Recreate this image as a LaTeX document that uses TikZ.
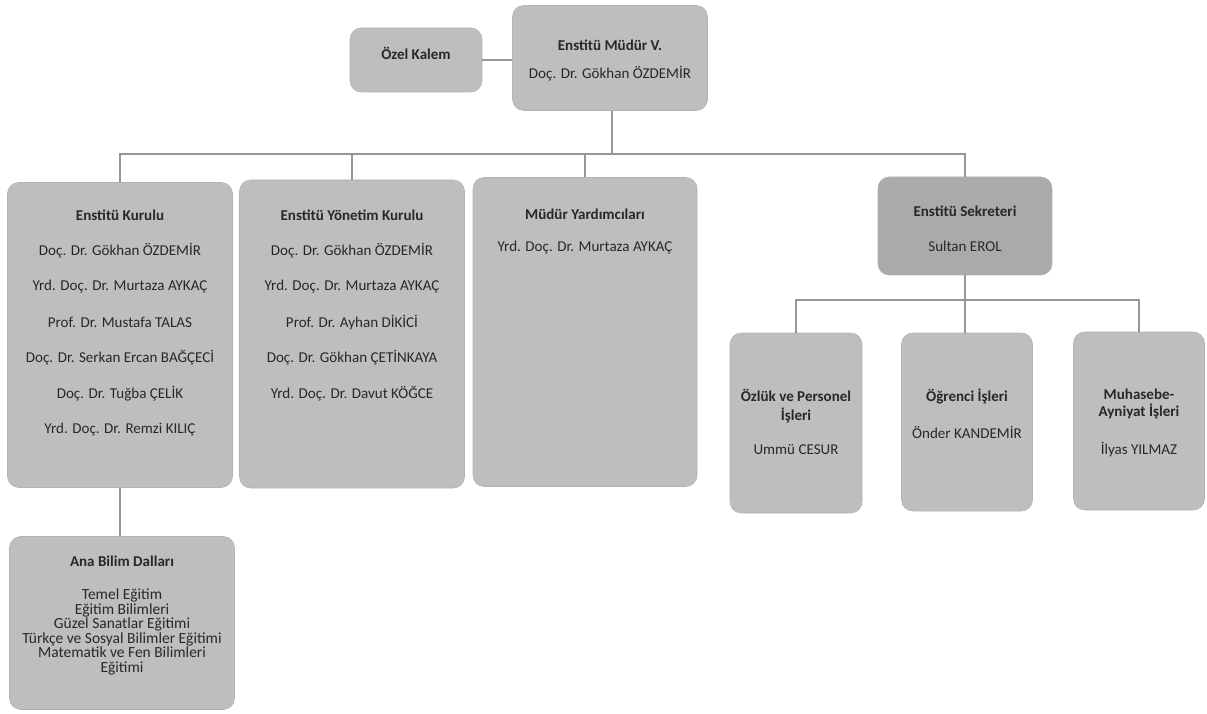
\documentclass[tikz,border=0pt]{standalone}
\usepackage{fontspec}
\setmainfont{Carlito}
\usetikzlibrary{positioning}

\newcommand\px{0.025cm}
\definecolor{boxgray}{RGB}{190,190,190}
\definecolor{darkbox}{RGB}{170,170,170}
\definecolor{linegray}{RGB}{150,150,150}
\definecolor{txtgray}{RGB}{40,40,40}

\begin{document}
\begin{tikzpicture}[x=\px, y=-\px,
    unit/.style={draw=gray!60, fill=boxgray, rounded corners=0.28cm, inner sep=0pt},
    title/.style={font=\bfseries\fontsize{10.7}{12}\selectfont, text=txtgray, align=center},
    member/.style={font=\fontsize{10.7}{12}\selectfont, text=txtgray, align=center},
    link/.style={draw=linegray, line width=1.1pt}]
\useasboundingbox (0,0) rectangle (1207,714);

% top level
\node[unit, minimum width=132*\px, minimum height=64*\px] (ozel) at (416,60) {};
\node[unit, minimum width=195*\px, minimum height=105*\px] (mudur) at (610,58) {};
\node[title] (ozel-t) at (416,53) {Özel Kalem};
\node[title] (mudur-t) at (610,45) {Enstitü Müdür V.};
\node[member] (mudur-n) at (610,74) {Doç. Dr. Gökhan ÖZDEMİR};

% second level
\node[unit, minimum width=225*\px, minimum height=305*\px] (kurulu) at (120,335) {};
\node[unit, minimum width=225*\px, minimum height=308*\px] (yonetim) at (352,334) {};
\node[unit, minimum width=224*\px, minimum height=309*\px] (yardim) at (585,332) {};
\node[unit, fill=darkbox, minimum width=174*\px, minimum height=98*\px] (sekreter) at (965,226) {};

\node[title] (kurulu-t) at (120,215) {Enstitü Kurulu};
\foreach \t [count=\i] in {Doç. Dr. Gökhan ÖZDEMİR, Yrd. Doç. Dr. Murtaza AYKAÇ,
    Prof. Dr. Mustafa TALAS, Doç. Dr. Serkan Ercan BAĞÇECİ,
    Doç. Dr. Tuğba ÇELİK, Yrd. Doç. Dr. Remzi KILIÇ}
    \node[member] (kurulu-\i) at (120,{215+35.7*\i}) {\t};

\node[title] (yonetim-t) at (352,215) {Enstitü Yönetim Kurulu};
\foreach \t [count=\i] in {Doç. Dr. Gökhan ÖZDEMİR, Yrd. Doç. Dr. Murtaza AYKAÇ,
    Prof. Dr. Ayhan DİKİCİ, Doç. Dr. Gökhan ÇETİNKAYA, Yrd. Doç. Dr. Davut KÖĞCE}
    \node[member] (yonetim-\i) at (352,{215+35.7*\i}) {\t};

\node[title] (yardim-t) at (585,214) {Müdür Yardımcıları};
\node[member] (yardim-1) at (585,248) {Yrd. Doç. Dr. Murtaza AYKAÇ};

\node[title] (sekreter-t) at (965,211) {Enstitü Sekreteri};
\node[member] (sekreter-n) at (965,246) {Sultan EROL};

% under the secretary
\node[unit, minimum width=132*\px, minimum height=180*\px] (ozluk) at (796,423) {};
\node[unit, minimum width=131*\px, minimum height=178*\px] (ogrenci) at (967,422) {};
\node[unit, minimum width=131*\px, minimum height=178*\px] (muhasebe) at (1139,421) {};
\node[title, font=\bfseries\fontsize{10.7}{13.5}\selectfont] (ozluk-t) at (796,406) {Özlük ve Personel\\İşleri};
\node[member] (ozluk-n) at (796,450) {Ummü CESUR};
\node[title] (ogrenci-t) at (967,396) {Öğrenci İşleri};
\node[member] (ogrenci-n) at (967,432) {Önder KANDEMİR};
\node[title, font=\bfseries\fontsize{10.7}{12.6}\selectfont] (muhasebe-t) at (1139,404) {Muhasebe-\\Ayniyat İşleri};
\node[member] (muhasebe-n) at (1139,450) {İlyas YILMAZ};

% under the council
\node[unit, minimum width=225*\px, minimum height=173*\px] (anabilim) at (122,623) {};
\node[title] (anabilim-t) at (122,561) {Ana Bilim Dalları};
\node[member, font=\fontsize{11}{10.3}\selectfont] (anabilim-l) at (122,632)
    {Temel Eğitim\\Eğitim Bilimleri\\Güzel Sanatlar Eğitimi\\Türkçe  ve Sosyal Bilimler Eğitimi\\Matematik ve Fen Bilimleri\\Eğitimi};

% connectors
\coordinate (bus) at (612,154);
\coordinate (bus2) at (965,300);
\draw[link] (ozel.east) -- (ozel.east -| mudur.west);
\draw[link] (mudur.south -| bus) -- (bus);
\draw[link] (kurulu.north) |- (bus);
\draw[link] (sekreter.north) |- (bus);
\draw[link] (yonetim.north) -- (yonetim.north |- bus);
\draw[link] (yardim.north) -- (yardim.north |- bus);
\draw[link] (sekreter.south) -- (bus2);
\draw[link] (ozluk.north) |- (bus2);
\draw[link] (muhasebe.north) |- (bus2);
\draw[link] (bus2) -- (bus2 |- ogrenci.north);
\draw[link] (kurulu.south) -- (kurulu.south |- anabilim.north);
\end{tikzpicture}
\end{document}
